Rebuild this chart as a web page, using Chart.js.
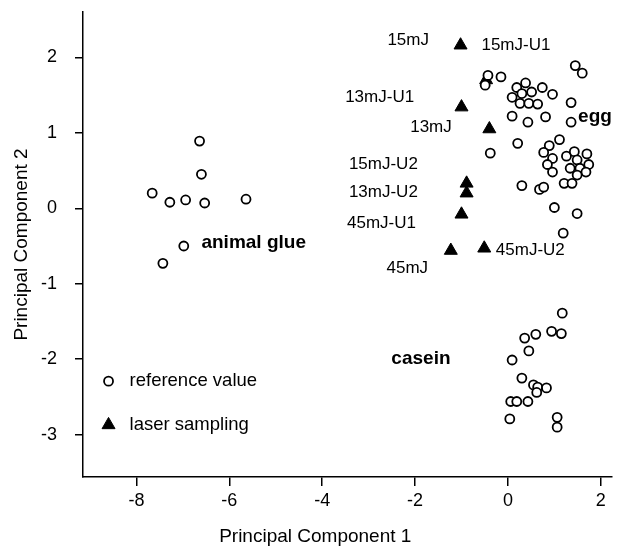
<!DOCTYPE html>
<html>
<head>
    <title>PCA scores</title>
    <style>
        body { margin: 0; background: #fff; }
    </style>
    <script src="https://cdn.jsdelivr.net/npm/chart.js@4.4.0/dist/chart.umd.min.js"></script>
</head>
<body>
    <canvas id="pcaChart" width="620" height="549"></canvas>
    <script>
        // reference samples (PC1, PC2)
        const eggPC1 = [-0.43, -0.49, -0.15, 1.45, 1.60, 0.19, 0.38, 0.74, 0.96, 0.09, 0.30, 0.51, 0.26, 0.45, 0.64,
                        1.36, 0.09, 0.43, 0.81, 1.36, 0.21, 1.11, 0.89, 0.77, 0.96, 0.85, 0.96, 1.26, 1.43, 1.70,
                        1.49, 1.74, 1.34, 1.55, 1.68, 1.49, 1.21, 1.38, 0.30, 0.68, 0.77, 1.00, 1.49, -0.38, 1.19];
        const eggPC2 = [1.76, 1.63, 1.74, 1.89, 1.79, 1.60, 1.66, 1.60, 1.51, 1.47, 1.52, 1.54, 1.39, 1.39, 1.38,
                        1.40, 1.22, 1.14, 1.21, 1.14, 0.86, 0.91, 0.83, 0.74, 0.66, 0.58, 0.48, 0.69, 0.75, 0.72,
                        0.64, 0.58, 0.53, 0.53, 0.48, 0.44, 0.33, 0.33, 0.30, 0.25, 0.28, 0.01, -0.07, 0.73, -0.33];
        const caseinPC1 = [1.17, 0.36, 0.60, 0.94, 1.15, 0.45, 0.09, 0.30, 0.55, 0.64, 0.62, 0.83, 0.06, 0.19, 0.43, 0.04, 1.06, 1.06];
        const caseinPC2 = [-1.39, -1.72, -1.67, -1.63, -1.66, -1.89, -2.01, -2.25, -2.34, -2.37, -2.44, -2.38, -2.56, -2.56, -2.56, -2.79, -2.77, -2.90];
        const gluePC1 = [-6.64, -6.60, -7.66, -7.28, -6.94, -6.53, -5.64, -6.98, -7.43];
        const gluePC2 = [0.89, 0.45, 0.20, 0.08, 0.11, 0.07, 0.12, -0.50, -0.73];

        // laser sampling points
        const laserPC1 = [-1.02, -0.47, -1.00, -0.40, -0.89, -0.89, -1.00, -1.23, -0.51];
        const laserPC2 = [2.16, 1.70, 1.34, 1.05, 0.33, 0.20, -0.08, -0.56, -0.53];

        const xTickValues = [-8, -6, -4, -2, 0, 2];
        const yTickValues = [-3, -2, -1, 0, 1, 2];

        // text labels inside the plot, anchored in data units
        const noteText = ['15mJ', '15mJ-U1', '13mJ-U1', '13mJ', '15mJ-U2', '13mJ-U2', '45mJ-U1', '45mJ', '45mJ-U2',
                          'egg', 'animal glue', 'casein'];
        const notePC1 = [-1.70, -0.57, -2.02, -1.21, -1.94, -1.94, -1.98, -1.72, -0.26, 1.51, -6.60, -2.51];
        const notePC2 = [2.23, 2.16, 1.47, 1.07, 0.58, 0.21, -0.20, -0.79, -0.56, 1.21, -0.46, -2.00];
        const noteAlign = ['right', 'left', 'right', 'right', 'right', 'right', 'right', 'right', 'left', 'left', 'left', 'left'];
        const noteBold = [false, false, false, false, false, false, false, false, false, true, true, true];

        // legend sits inside the plot, lower left
        const legendPC1 = -8.6;
        const legendPC2 = [-2.29, -2.87];

        const FONT = '"Liberation Sans", Arial, Helvetica, sans-serif';
        Chart.defaults.font.family = FONT;
        Chart.defaults.color = '#000';

        const toPoints = (xs, ys) => xs.map((v, i) => ({ x: v, y: ys[i] }));

        const notesPlugin = {
            id: 'notes',
            afterDatasetsDraw(chart) {
                const { ctx, scales: { x, y } } = chart;
                ctx.save();
                ctx.fillStyle = '#000';
                ctx.textBaseline = 'middle';
                noteText.forEach((t, i) => {
                    ctx.font = (noteBold[i] ? 'bold 19px ' : '17px ') + FONT;
                    ctx.textAlign = noteAlign[i];
                    ctx.fillText(t, x.getPixelForValue(notePC1[i]), y.getPixelForValue(notePC2[i]));
                });

                // legend markers + labels
                chart.data.datasets.forEach((ds, i) => {
                    const px = x.getPixelForValue(legendPC1);
                    const py = y.getPixelForValue(legendPC2[i]);
                    ctx.fillStyle = ds.backgroundColor;
                    ctx.strokeStyle = ds.borderColor;
                    ctx.lineWidth = ds.borderWidth;
                    Chart.helpers.drawPoint(ctx, {
                        pointStyle: ds.pointStyle, radius: ds.pointRadius,
                        borderWidth: ds.borderWidth, rotation: 0
                    }, px, py);
                    ctx.fillStyle = '#000';
                    ctx.font = '18.5px ' + FONT;
                    ctx.textAlign = 'left';
                    ctx.fillText(ds.label, px + 21, py);
                });

                // x axis title, set a bit left of centre like the original
                ctx.font = '19px ' + FONT;
                ctx.textAlign = 'center';
                ctx.fillText('Principal Component 1', (x.left + x.right) / 2 - 32, 537);
                ctx.restore();
            }
        };

        new Chart(document.getElementById('pcaChart'), {
            type: 'scatter',
            data: {
                datasets: [
                    {
                        label: 'reference value',
                        data: toPoints(eggPC1, eggPC2)
                            .concat(toPoints(caseinPC1, caseinPC2))
                            .concat(toPoints(gluePC1, gluePC2)),
                        pointStyle: 'circle',
                        pointRadius: 4.5,
                        borderWidth: 1.8,
                        borderColor: '#000',
                        backgroundColor: '#fff'
                    },
                    {
                        label: 'laser sampling',
                        data: toPoints(laserPC1, laserPC2),
                        pointStyle: 'triangle',
                        pointRadius: 7.5,
                        borderWidth: 1,
                        borderColor: '#000',
                        backgroundColor: '#000'
                    }
                ]
            },
            options: {
                responsive: false,
                animation: false,
                layout: { padding: { top: 12, right: 2, left: 0, bottom: 0 } },
                plugins: {
                    legend: { display: false },
                    tooltip: { enabled: false }
                },
                scales: {
                    x: {
                        type: 'linear',
                        position: 'bottom',
                        min: -9.15,
                        max: 2.23,
                        afterFit: s => {
                            s.height = 72;
                            s.paddingLeft = 0;
                            s.paddingRight = 0;
                        },
                        afterBuildTicks: s => { s.ticks = xTickValues.map(v => ({ value: v })); },
                        ticks: { font: { size: 18 }, padding: 4, maxRotation: 0, autoSkip: false },
                        grid: { drawOnChartArea: false, tickLength: 9, color: '#000', lineWidth: 1.5 },
                        border: { color: '#000', width: 1.5 }
                    },
                    y: {
                        type: 'linear',
                        min: -3.56,
                        max: 2.6,
                        afterFit: s => {
                            s.width = 83;
                            s.paddingTop = 0;
                            s.paddingBottom = 0;
                        },
                        afterBuildTicks: s => { s.ticks = yTickValues.map(v => ({ value: v })); },
                        ticks: { font: { size: 18 }, padding: 18 },
                        grid: { drawOnChartArea: false, tickLength: 8, color: '#000', lineWidth: 1.5 },
                        border: { color: '#000', width: 1.5 },
                        title: {
                            display: true,
                            text: 'Principal Component 2',
                            font: { size: 19 },
                            padding: { top: 10, bottom: 0 }
                        }
                    }
                }
            },
            plugins: [notesPlugin]
        });
    </script>
</body>
</html>
